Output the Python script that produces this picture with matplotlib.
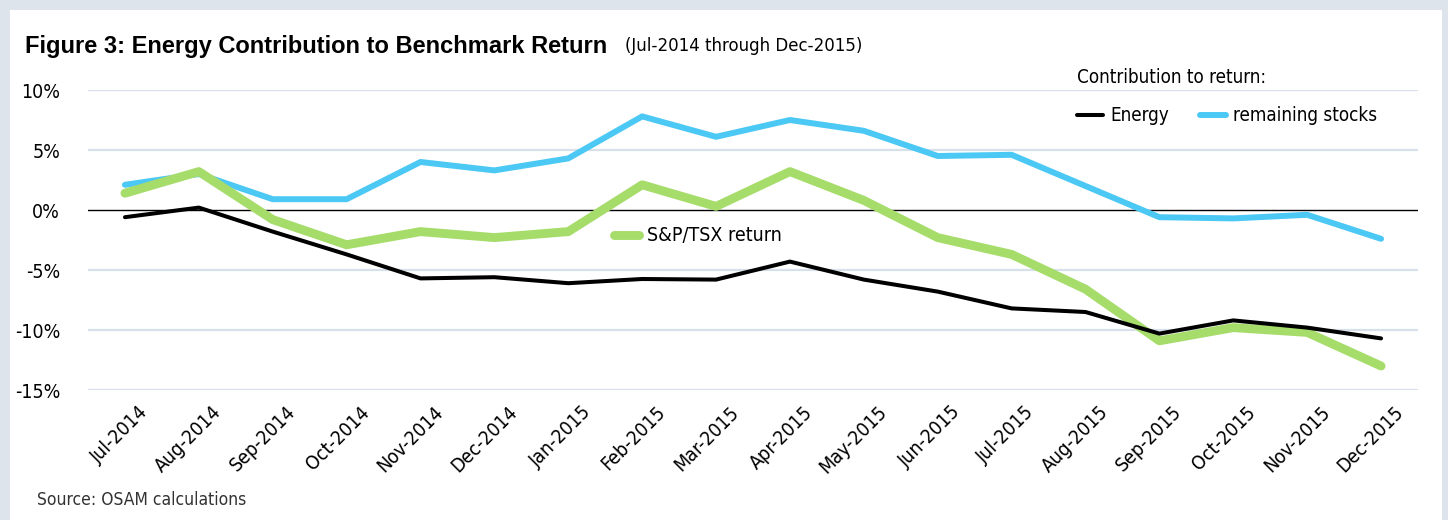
import matplotlib
matplotlib.use("Agg")
import matplotlib.pyplot as plt
import matplotlib.patches as mpatches
import matplotlib.transforms as mtransforms

months = ["Jul-2014", "Aug-2014", "Sep-2014", "Oct-2014", "Nov-2014", "Dec-2014",
          "Jan-2015", "Feb-2015", "Mar-2015", "Apr-2015", "May-2015", "Jun-2015",
          "Jul-2015", "Aug-2015", "Sep-2015", "Oct-2015", "Nov-2015", "Dec-2015"]

energy = [-0.6, 0.2, -1.8, -3.7, -5.7, -5.6, -6.1, -5.75, -5.8, -4.3, -5.8, -6.8,
          -8.2, -8.5, -10.3, -9.2, -9.8, -10.7]
remaining = [2.1, 3.0, 0.9, 0.9, 4.0, 3.3, 4.3, 7.8, 6.1, 7.5, 6.6, 4.5,
             4.6, 2.0, -0.6, -0.7, -0.4, -2.4]
tsx = [1.4, 3.2, -0.8, -2.9, -1.8, -2.3, -1.8, 2.1, 0.3, 3.2, 0.8, -2.3,
       -3.7, -6.6, -10.9, -9.8, -10.2, -13.0]

yticks = [10, 5, 0, -5, -10, -15]
ytick_labels = ["10%", "5%", "0%", "-5%", "-10%", "-15%"]

# condensed face to stand in for the narrow font of the original
plt.rcParams["font.family"] = ["DejaVu Sans"]
plt.rcParams["font.stretch"] = "condensed"

fig = plt.figure(figsize=(14.48, 5.2), dpi=100)
fig.patch.set_facecolor("#dde4eb")
# white card inside light border
fig.add_artist(mpatches.Rectangle((10 / 1448, 0), 1432 / 1448, 510 / 520,
                                  transform=fig.transFigure, facecolor="white",
                                  edgecolor="none", zorder=0))

ax = fig.add_axes([88 / 1448, 1 - 390 / 520, 1330 / 1448, 300 / 520])
ax.set_facecolor("none")

x = list(range(len(months)))
ax.plot(x, remaining, color="#4cc8f4", lw=4.3, solid_capstyle="round",
        label="remaining stocks", zorder=3)
ax.plot(x, tsx, color="#a6dc6a", lw=6.4, solid_capstyle="round",
        label="S&P/TSX return", zorder=4)
ax.plot(x, energy, color="black", lw=2.9, solid_capstyle="round",
        label="Energy", zorder=5)

ax.set_xlim(-0.5, len(months) - 0.5)
ax.set_ylim(-15, 10)
ax.set_yticks(yticks)
ax.set_yticklabels(ytick_labels, fontsize=14)
for y in yticks:
    if y == 0:
        ax.axhline(0, color="black", lw=1.0, zorder=2)
    else:
        ax.axhline(y, color="#d8e1ea", lw=1.6, zorder=1)
for s in ax.spines.values():
    s.set_visible(False)
ax.tick_params(axis="y", length=0, pad=20)
ax.tick_params(axis="x", length=0, pad=9)

ax.set_xticks(x)
ax.set_xticklabels(months, rotation=45, ha="right", va="top",
                   rotation_mode="anchor", fontsize=14)
offset = mtransforms.ScaledTranslation(13 / 100, 0, fig.dpi_scale_trans)
for lab in ax.get_xticklabels():
    lab.set_transform(lab.get_transform() + offset)

h = {l.get_label(): l for l in ax.get_lines()}
leg1 = ax.legend([h["Energy"], h["remaining stocks"]], ["Energy", "remaining stocks"],
                 title="Contribution to return:", ncol=2, frameon=False,
                 loc="upper left", bbox_to_anchor=(1077 / 1448, 1 - 68 / 520),
                 bbox_transform=fig.transFigure, fontsize=13.5, title_fontsize=13.5,
                 handlelength=1.4, handletextpad=0.4, columnspacing=1.6,
                 alignment="left", borderaxespad=0, borderpad=0)
leg1._legend_box.sep = 14
ax.add_artist(leg1)
ax.legend([h["S&P/TSX return"]], ["S&P/TSX return"], frameon=False,
          loc="center left", bbox_to_anchor=(606 / 1448, 1 - 236 / 520),
          bbox_transform=fig.transFigure, fontsize=14, handlelength=1.3,
          handletextpad=0.4, borderaxespad=0)

fig.text(25 / 1448, 1 - 46 / 520, "Figure 3: Energy Contribution to Benchmark Return",
         fontsize=17, fontweight="bold", family=["Liberation Sans", "DejaVu Sans"],
         fontstretch="normal", va="center", ha="left")
fig.text(625 / 1448, 1 - 46 / 520, "(Jul-2014 through Dec-2015)", fontsize=13.3,
         va="center", ha="left")
fig.text(37 / 1448, 1 - 500 / 520, "Source: OSAM calculations", fontsize=12.5,
         va="center", ha="left", color="#333333")

fig.savefig("out.png", dpi=100, facecolor=fig.get_facecolor())
